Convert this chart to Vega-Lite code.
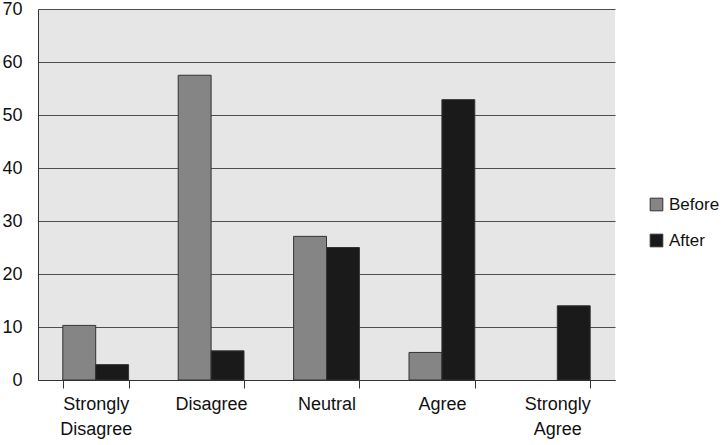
{
  "$schema": "https://vega.github.io/schema/vega-lite/v6.json",
  "width": 577,
  "height": 371,
  "autosize": {"type": "none"},
  "padding": {"left": 38, "top": 9, "right": 107, "bottom": 65},
  "background": "white",
  "config": {
    "font": "Liberation Sans",
    "view": {"fill": "#e6e6e6", "stroke": null},
    "axis": {"labelFont": "Liberation Sans", "labelFontSize": 18, "labelColor": "#111111"},
    "legend": {"labelFont": "Liberation Sans", "labelFontSize": 17, "labelColor": "#111111"}
  },
  "data": {
    "values": [
      {"response": "Strongly Disagree", "time": "Before", "pct": 10.3},
      {"response": "Strongly Disagree", "time": "After", "pct": 2.9},
      {"response": "Disagree", "time": "Before", "pct": 57.5},
      {"response": "Disagree", "time": "After", "pct": 5.5},
      {"response": "Neutral", "time": "Before", "pct": 27.1},
      {"response": "Neutral", "time": "After", "pct": 25.0},
      {"response": "Agree", "time": "Before", "pct": 5.2},
      {"response": "Agree", "time": "After", "pct": 52.9},
      {"response": "Strongly Agree", "time": "Before", "pct": 0},
      {"response": "Strongly Agree", "time": "After", "pct": 14.0}
    ]
  },
  "mark": {"type": "bar", "stroke": "#333333", "strokeWidth": 1},
  "encoding": {
    "x": {
      "field": "response",
      "type": "nominal",
      "sort": ["Strongly Disagree", "Disagree", "Neutral", "Agree", "Strongly Agree"],
      "scale": {"paddingInner": 0.43, "paddingOuter": 0.215},
      "axis": {
        "title": null,
        "labelAngle": 0,
        "labelExpr": "split(datum.label, ' ')",
        "labelLineHeight": 25,
        "labelPadding": 7,
        "labelBaseline": "top",
        "tickBand": "extent",
        "tickSize": 8,
        "tickColor": "#333333",
        "domainColor": "#333333",
        "grid": false
      }
    },
    "xOffset": {"field": "time", "type": "nominal", "sort": ["Before", "After"], "scale": {"paddingInner": 0, "paddingOuter": 0}},
    "y": {
      "field": "pct",
      "type": "quantitative",
      "scale": {"domain": [0, 70], "nice": false},
      "axis": {
        "title": null,
        "values": [0, 10, 20, 30, 40, 50, 60, 70],
        "tickSize": 0,
        "labelPadding": 16,
        "domainColor": "#333333",
        "grid": true,
        "gridColor": "#4d4d4d",
        "gridWidth": 1
      }
    },
    "strokeOpacity": {"condition": {"test": "datum.pct > 0", "value": 1}, "value": 0},
    "color": {
      "field": "time",
      "type": "nominal",
      "sort": ["Before", "After"],
      "scale": {"domain": ["Before", "After"], "range": ["#858585", "#1a1a1a"]},
      "legend": {
        "title": null,
        "orient": "none",
        "legendX": 610,
        "legendY": 187,
        "symbolType": "square",
        "symbolSize": 160,
        "symbolStrokeColor": "#333333",
        "symbolStrokeWidth": 1,
        "rowPadding": 18,
        "labelOffset": 4
      }
    }
  }
}
